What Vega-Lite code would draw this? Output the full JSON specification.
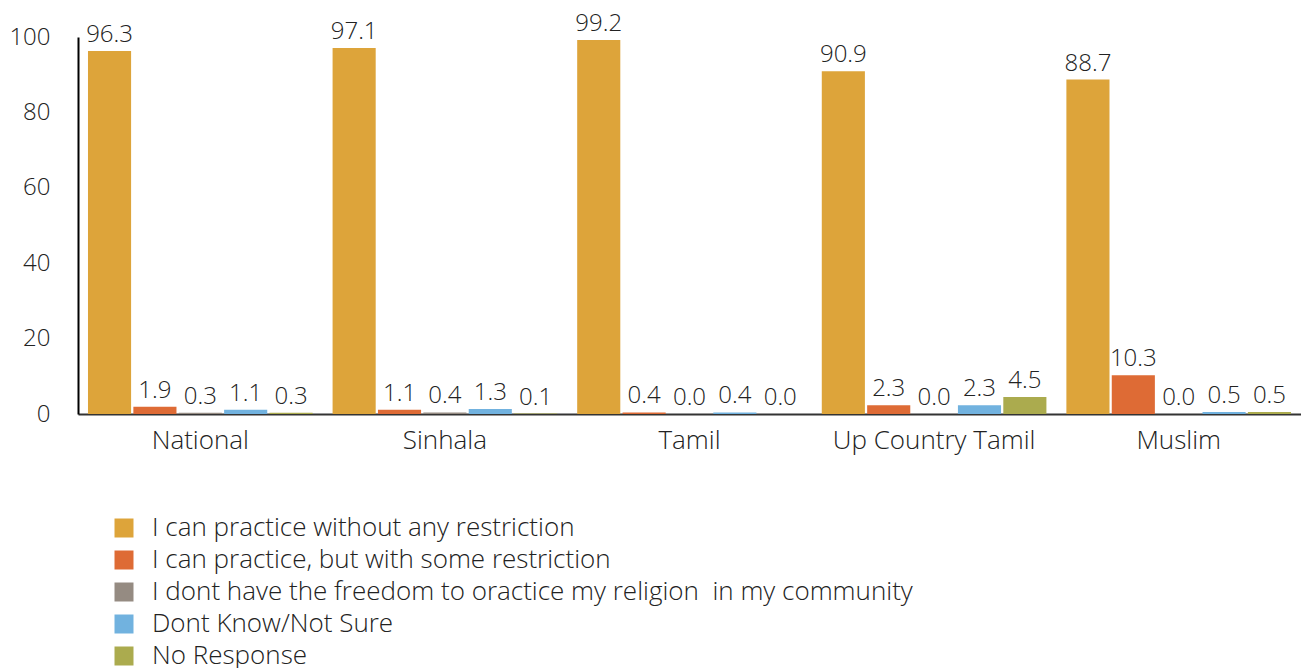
{
  "$schema": "https://vega.github.io/schema/vega-lite/v6.json",
  "width": 1223,
  "height": 377,
  "autosize": {"type": "none"},
  "padding": {"left": 78, "top": 37, "right": 0, "bottom": 254},
  "background": "white",
  "config": {"view": {"stroke": null}, "font": "Open Sans", "text": {"color": "#222"}},
  "data": {"values": [
    {"group": "National", "response": "I can practice without any restriction", "value": 96.3},
    {"group": "National", "response": "I can practice, but with some restriction", "value": 1.9},
    {"group": "National", "response": "I dont have the freedom to oractice my religion\u00a0 in my community", "value": 0.3},
    {"group": "National", "response": "Dont Know/Not Sure", "value": 1.1},
    {"group": "National", "response": "No Response", "value": 0.3},
    {"group": "Sinhala", "response": "I can practice without any restriction", "value": 97.1},
    {"group": "Sinhala", "response": "I can practice, but with some restriction", "value": 1.1},
    {"group": "Sinhala", "response": "I dont have the freedom to oractice my religion\u00a0 in my community", "value": 0.4},
    {"group": "Sinhala", "response": "Dont Know/Not Sure", "value": 1.3},
    {"group": "Sinhala", "response": "No Response", "value": 0.1},
    {"group": "Tamil", "response": "I can practice without any restriction", "value": 99.2},
    {"group": "Tamil", "response": "I can practice, but with some restriction", "value": 0.4},
    {"group": "Tamil", "response": "I dont have the freedom to oractice my religion\u00a0 in my community", "value": 0.0},
    {"group": "Tamil", "response": "Dont Know/Not Sure", "value": 0.4},
    {"group": "Tamil", "response": "No Response", "value": 0.0},
    {"group": "Up Country Tamil", "response": "I can practice without any restriction", "value": 90.9},
    {"group": "Up Country Tamil", "response": "I can practice, but with some restriction", "value": 2.3},
    {"group": "Up Country Tamil", "response": "I dont have the freedom to oractice my religion\u00a0 in my community", "value": 0.0},
    {"group": "Up Country Tamil", "response": "Dont Know/Not Sure", "value": 2.3},
    {"group": "Up Country Tamil", "response": "No Response", "value": 4.5},
    {"group": "Muslim", "response": "I can practice without any restriction", "value": 88.7},
    {"group": "Muslim", "response": "I can practice, but with some restriction", "value": 10.3},
    {"group": "Muslim", "response": "I dont have the freedom to oractice my religion\u00a0 in my community", "value": 0.0},
    {"group": "Muslim", "response": "Dont Know/Not Sure", "value": 0.5},
    {"group": "Muslim", "response": "No Response", "value": 0.5}
  ]},
  "encoding": {
    "x": {
      "field": "group", "type": "nominal",
      "sort": ["National", "Sinhala", "Tamil", "Up Country Tamil", "Muslim"],
      "scale": {"paddingInner": 0, "paddingOuter": 0},
      "axis": {"title": null, "labelAngle": 0, "ticks": false, "domainColor": "#333", "domainWidth": 2, "labelFontSize": 26, "labelFontWeight": 300, "labelColor": "#222", "labelPadding": 13, "labelLimit": 0}
    },
    "xOffset": {
      "field": "response", "type": "nominal",
      "sort": ["I can practice without any restriction", "I can practice, but with some restriction", "I dont have the freedom to oractice my religion\u00a0 in my community", "Dont Know/Not Sure", "No Response"],
      "scale": {"paddingInner": 0.05, "paddingOuter": 0.22}
    },
    "y": {
      "field": "value", "type": "quantitative",
      "scale": {"domain": [0, 100]},
      "axis": {"title": null, "grid": false, "ticks": false, "values": [0, 20, 40, 60, 80, 100], "labelFontSize": 24, "labelFontWeight": 300, "labelColor": "#222", "labelPadding": 28, "domainColor": "#000", "domainWidth": 2}
    }
  },
  "layer": [
    {
      "mark": {"type": "bar"},
      "encoding": {
        "color": {
          "field": "response", "type": "nominal",
          "sort": ["I can practice without any restriction", "I can practice, but with some restriction", "I dont have the freedom to oractice my religion\u00a0 in my community", "Dont Know/Not Sure", "No Response"],
          "scale": {"range": ["#DDA43A", "#DE6B35", "#958B82", "#71B2DF", "#ABAB4E"]},
          "legend": {"orient": "none", "legendX": 33, "legendY": 478, "title": null, "symbolType": "square", "symbolSize": 361, "symbolStrokeWidth": 0, "labelFontSize": 26, "labelFontWeight": 300, "labelColor": "#222", "labelOffset": 15, "rowPadding": 6, "labelLimit": 0, "direction": "vertical"}
        }
      }
    },
    {
      "mark": {"type": "text", "baseline": "alphabetic", "dy": -9, "fontSize": 24, "fontWeight": 300, "color": "#222"},
      "encoding": {"text": {"field": "value", "type": "quantitative", "format": ".1f"}}
    }
  ]
}
